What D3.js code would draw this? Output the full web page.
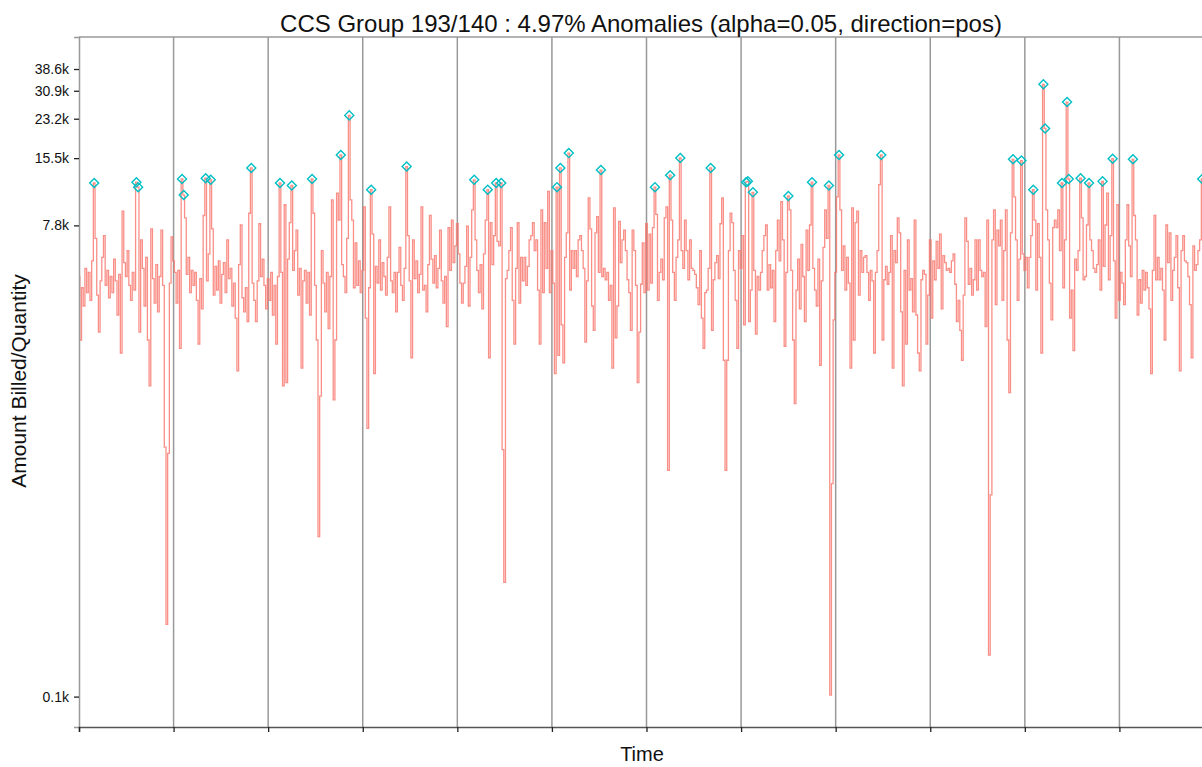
<!DOCTYPE html>
<html>
<head>
<meta charset="utf-8">
<script src="https://cdn.jsdelivr.net/npm/d3@7"></script>
<style>
  body { margin: 0; background: #fff; }
  svg { display: block; font-family: "Liberation Sans", Arial, sans-serif; }
</style>
</head>
<body>
<svg id="chart"></svg>
<script>
// amount billed / quantity, in thousands, one value per time step
var billedK = [
  4.6,2.4,4.1,3.4,5.0,3.9,4.8,3.6,5.4,12.0,
  6.8,3.8,2.6,4.4,5.6,7.0,4.2,4.9,3.7,4.6,
  3.9,5.5,4.4,3.1,4.7,2.1,9.0,5.3,4.6,6.0,
  4.2,3.6,4.8,4.0,12.1,11.5,2.6,6.7,5.0,3.4,
  5.6,2.4,1.5,7.5,4.5,3.5,5.2,3.2,4.6,7.4,
  4.2,0.8,0.13,0.75,4.3,6.9,
  5.4,4.8,3.5,4.9,2.2,12.5,10.6,8.4,4.7,5.6,
  3.9,4.9,4.2,4.8,3.6,2.3,4.5,3.3,8.6,12.6,
  4.4,5.8,12.4,7.5,3.8,5.1,4.0,5.4,3.5,4.7,
  5.3,3.9,6.7,4.5,5.0,3.4,4.3,3.0,1.75,5.2,
  7.8,3.7,3.2,4.1,2.9,8.8,14.0,4.3,3.6,2.9,
  4.4,7.9,4.6,5.5,4.2,3.3,
  4.5,3.6,4.8,3.1,4.2,2.3,4.6,12.0,4.8,1.5,
  9.6,1.55,5.5,8.0,11.7,4.9,6.0,7.4,3.8,5.0,
  1.8,4.4,4.9,3.5,4.8,3.1,12.5,8.8,4.2,2.4,
  0.32,1.35,6.0,4.3,3.2,4.8,2.7,4.6,10.1,1.3,
  2.4,10.8,8.2,16.0,5.2,4.6,3.9,6.8,24.0,10.1,
  8.2,4.1,6.5,4.2,5.4,3.9,
  4.9,9.4,3.0,0.97,4.1,11.2,7.1,1.7,5.1,4.3,
  6.7,4.0,5.3,4.6,3.8,5.6,9.4,4.4,3.9,4.8,
  3.2,4.8,6.2,4.2,3.6,5.0,14.2,7.0,4.4,2.0,
  6.7,4.5,5.4,3.9,4.7,9.4,4.0,4.2,3.2,5.2,
  8.6,5.5,4.3,5.7,4.1,5.0,7.4,4.4,3.5,4.6,
  2.75,7.6,4.9,8.2,5.3,6.3,
  7.9,5.8,4.3,3.5,4.3,5.1,7.7,3.4,5.6,9.1,
  12.4,6.7,4.9,3.9,5.2,3.3,5.8,8.2,11.2,2.0,
  8.0,5.2,7.0,12.0,6.6,6.3,12.0,0.78,0.2,4.5,
  4.9,6.0,7.6,3.6,2.3,5.0,8.0,3.5,5.6,4.4,
  5.6,4.2,5.1,6.7,7.0,8.0,6.0,6.7,4.0,2.3,
  9.1,3.9,8.0,5.0,11.0,3.9,
  6.0,4.3,1.7,11.5,2.05,14.0,2.8,1.9,5.6,7.2,
  16.3,4.0,6.0,5.0,6.0,4.6,6.7,7.0,6.0,5.0,
  2.35,4.4,10.3,7.5,3.4,2.65,7.2,8.5,4.8,13.7,
  4.6,5.0,4.45,4.8,3.6,4.2,1.8,9.3,2.45,3.4,
  8.1,5.3,6.7,7.4,6.0,4.45,3.9,2.65,7.4,6.0,
  4.2,1.55,2.6,4.25,6.5,3.9,
  7.9,4.0,7.1,4.3,7.6,11.5,8.7,3.6,4.8,5.5,
  4.45,8.4,9.4,0.63,13.0,8.2,4.8,3.6,5.6,6.7,
  15.5,6.0,5.0,8.2,6.0,4.45,6.7,5.0,4.9,4.7,
  4.1,3.45,6.0,3.0,2.2,3.9,4.0,5.0,14.0,2.65,
  4.45,5.3,5.7,4.5,7.9,10.3,1.95,0.63,1.95,6.0,
  8.8,8.0,4.9,3.6,2.2,6.0,
  5.0,7.0,2.8,12.1,12.2,2.9,4.0,10.9,4.9,2.55,
  4.6,4.0,4.8,6.0,7.0,7.8,4.0,5.2,4.1,4.9,
  2.9,6.0,8.2,5.4,9.9,6.7,2.25,4.8,10.5,9.1,
  4.9,2.4,1.25,4.0,5.5,3.3,6.4,4.6,2.9,7.4,
  4.9,7.8,12.1,5.0,4.0,3.4,5.5,1.85,4.4,6.2,
  9.1,6.8,11.7,0.063,0.55,2.95,
  4.8,10.4,16.0,9.1,4.9,6.3,4.0,5.6,4.3,1.8,
  9.3,2.4,8.0,9.0,3.8,6.0,4.8,5.6,5.7,4.8,
  3.6,4.9,4.4,2.1,4.8,6.0,11.8,16.0,2.4,4.45,
  5.1,4.25,4.8,7.0,1.8,6.0,5.3,8.4,7.2,3.2,
  1.5,4.9,2.3,6.7,4.0,4.5,3.2,8.2,3.1,2.1,
  1.75,4.45,4.9,4.7,2.3,3.8,
  6.7,3.0,5.4,4.45,6.6,5.0,7.1,3.3,5.7,5.3,
  4.9,5.0,4.8,5.4,5.8,4.25,2.9,3.6,2.65,1.95,
  3.8,8.4,6.6,4.25,5.0,3.8,4.45,6.7,4.0,6.7,
  4.9,4.6,4.8,2.75,8.2,0.095,0.49,6.7,9.1,3.45,
  7.4,6.3,8.2,3.6,6.0,9.1,2.4,1.4,7.2,15.3,
  10.4,6.7,3.6,5.5,15.1,5.8,
  4.9,5.6,4.1,5.6,7.0,11.2,8.2,4.0,7.9,5.6,
  2.1,33.0,21.0,9.1,6.7,4.3,2.95,7.6,8.2,7.6,
  9.1,6.0,12.0,4.1,6.7,27.5,12.5,3.0,4.0,2.15,
  5.5,4.9,6.0,12.6,8.4,4.45,4.6,7.8,12.0,6.7,
  6.0,5.0,4.8,5.2,6.7,4.0,12.2,5.1,7.8,10.8,
  4.45,7.0,15.4,5.4,3.0,9.6,
  3.6,4.8,4.3,3.45,6.7,9.6,6.3,4.6,15.3,8.6,
  6.7,3.1,4.45,3.5,4.9,4.0,4.8,4.1,3.3,1.7,
  4.9,8.6,4.45,5.6,4.45,5.0,4.0,2.4,7.8,5.3,
  7.2,3.6,4.9,5.6,7.0,4.1,1.75,6.0,7.0,5.4,
  5.3,4.6,3.45,2.0,6.3,4.9,5.2,6.0,6.7,12.5
];

// time steps flagged as anomalies
var anomalyIdx = [9,34,35,61,62,75,78,102,119,126,138,155,160,173,194,
  234,242,247,250,283,285,290,309,341,350,356,374,395,396,399,420,434,444,
  450,475,553,558,565,571,572,582,585,586,593,598,606,612,624,665];

var yTicks = [62, 7770, 15480, 23190, 30890, 38600];
var timeMax = 672, timeStep = 56;

var title = "CCS Group 193/140 : 4.97% Anomalies (alpha=0.05, direction=pos)";

var svgWidth = 1202, svgHeight = 767;
var plotLeft = 79, plotRight = 1214, plotTop = 37, plotBottom = 727;

var svg = d3.select("#chart")
    .attr("width", svgWidth)
    .attr("height", svgHeight);

var data = billedK.map(function(v, i) { return {t: i, v: v * 1000}; });

var xScale = d3.scaleLinear()
    .domain([0, timeMax])
    .range([plotLeft, plotRight]);
var yScale = d3.scaleLog()
    .domain([45.4, 53600])
    .range([plotBottom, plotTop]);

// vertical grid lines
svg.append("g")
    .selectAll("line")
    .data(d3.range(timeStep, timeMax, timeStep))
    .enter().append("line")
    .attr("x1", function(d) { return xScale(d); })
    .attr("x2", function(d) { return xScale(d); })
    .attr("y1", plotTop)
    .attr("y2", plotBottom)
    .attr("stroke", "#999")
    .attr("stroke-width", 1.5);

// panel top border
svg.append("line")
    .attr("x1", plotLeft).attr("x2", svgWidth)
    .attr("y1", plotTop).attr("y2", plotTop)
    .attr("stroke", "#999")
    .attr("stroke-width", 1.5);

// dense series: steps give the vertical-stroke look of the original
var line = d3.line()
    .curve(d3.curveStep)
    .x(function(d) { return xScale(d.t); })
    .y(function(d) { return yScale(d.v); });

svg.append("path")
    .datum(data)
    .attr("d", line)
    .attr("fill", "none")
    .attr("stroke", "#F8766D")
    .attr("stroke-opacity", 0.82)
    .attr("stroke-width", 1.3);

var diamond = d3.symbol().type(d3.symbolDiamond2).size(52);
svg.append("g")
    .selectAll("path")
    .data(anomalyIdx.map(function(i) { return data[i]; }))
    .enter().append("path")
    .attr("transform", function(d) {
      return "translate(" + xScale(d.t) + "," + yScale(d.v) + ")";
    })
    .attr("d", diamond)
    .attr("fill", "none")
    .attr("stroke", "#00BFC4")
    .attr("stroke-width", 1.4);

var y_axis = d3.axisLeft(yScale)
    .tickValues(yTicks)
    .tickFormat(function(d) { return (d / 1000).toFixed(1) + "k"; })
    .tickSizeOuter(0)
    .tickSize(5)
    .tickPadding(5);
var gy = svg.append("g")
    .attr("transform", "translate(" + plotLeft + ",0)")
    .call(y_axis);
gy.select(".domain").attr("stroke", "#999").attr("stroke-width", 1.5);
gy.selectAll(".tick line").attr("stroke", "#222").attr("stroke-width", 1.3);
gy.selectAll(".tick text")
    .attr("fill", "#111")
    .style("font-size", "14px")
    .style("font-family", "'Liberation Sans', Arial, sans-serif");

var x_axis = d3.axisBottom(xScale)
    .tickValues(d3.range(0, timeMax + 1, timeStep))
    .tickFormat("")
    .tickSizeOuter(0)
    .tickSize(5);
var gx = svg.append("g")
    .attr("transform", "translate(0," + plotBottom + ")")
    .call(x_axis);
gx.select(".domain").attr("stroke", "#555").attr("stroke-width", 1.5);
gx.selectAll(".tick line").attr("stroke", "#222").attr("stroke-width", 1.3);

svg.append("text")
    .attr("x", 641)
    .attr("y", 32)
    .attr("text-anchor", "middle")
    .attr("fill", "#111")
    .style("font-size", "24px")
    .text(title);

svg.append("text")
    .attr("x", 642)
    .attr("y", 761)
    .attr("text-anchor", "middle")
    .attr("fill", "#111")
    .style("font-size", "20px")
    .text("Time");

svg.append("text")
    .attr("transform", "translate(26,381) rotate(-90)")
    .attr("text-anchor", "middle")
    .attr("fill", "#111")
    .style("font-size", "21px")
    .text("Amount Billed/Quantity");
</script>
</body>
</html>
